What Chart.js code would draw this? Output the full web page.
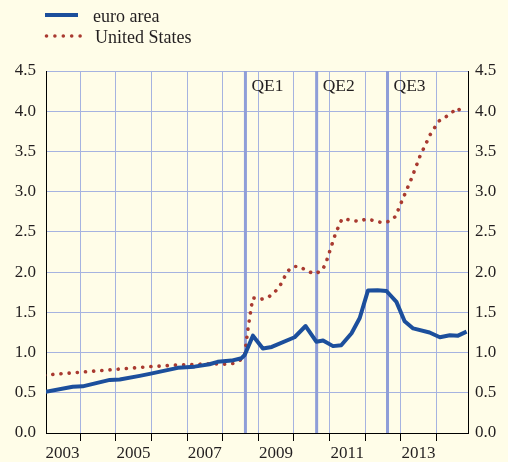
<!DOCTYPE html>
<html><head><meta charset="utf-8">
<script src="https://cdn.jsdelivr.net/npm/chart.js@4.4.1/dist/chart.umd.min.js"></script>
<style>html,body{margin:0;padding:0;background:#FFFDE8;overflow:hidden}</style>
</head><body>
<canvas id="c" width="508" height="462"></canvas>
<script>
// ---- data (decimal years, values in %) ----
const euroDates  = [2003.00,2003.79,2004.07,2004.83,2005.11,2005.67,2005.95,2006.74,2007.21,2007.63,2007.86,2008.25,2008.53,2008.62,2008.85,2009.13,2009.38,2010.02,2010.33,2010.63,2010.82,2011.10,2011.33,2011.62,2011.85,2012.08,2012.35,2012.60,2012.88,2013.11,2013.35,2013.81,2014.10,2014.38,2014.61,2014.85];
const euroValues = [0.51,0.575,0.58,0.66,0.665,0.71,0.735,0.81,0.825,0.855,0.885,0.90,0.93,0.97,1.21,1.05,1.07,1.19,1.33,1.135,1.15,1.08,1.09,1.24,1.43,1.77,1.775,1.765,1.63,1.39,1.30,1.25,1.19,1.215,1.21,1.26];
const usDates  = [2003.00,2004.83,2005.95,2006.74,2007.63,2008.06,2008.31,2008.51,2008.62,2008.71,2008.81,2008.85,2009.07,2009.29,2009.46,2009.61,2009.82,2009.99,2010.17,2010.36,2010.58,2010.78,2010.89,2011.03,2011.17,2011.35,2011.59,2011.81,2012.04,2012.25,2012.47,2012.67,2012.85,2013.03,2013.30,2013.54,2013.83,2013.96,2014.08,2014.27,2014.45,2014.61,2014.73];
const usValues = [0.72,0.785,0.825,0.845,0.86,0.855,0.865,0.91,0.98,1.29,1.58,1.68,1.66,1.69,1.75,1.83,2.01,2.07,2.07,2.015,1.98,2.015,2.10,2.29,2.48,2.66,2.65,2.63,2.66,2.64,2.615,2.63,2.69,2.88,3.16,3.44,3.71,3.80,3.88,3.93,3.99,4.04,3.96];
const qeDates  = [2008.64, 2010.64, 2012.63];
const qeLabels = ['QE1', 'QE2', 'QE3'];
const gridYears  = [2004,2005,2006,2007,2008,2009,2010,2011,2012,2013,2014];
const labelYears = [2003,2005,2007,2009,2011,2013];
const yTicks = [0,0.5,1,1.5,2,2.5,3,3.5,4,4.5];
const seriesNames = ['euro area', 'United States'];

const BG = '#FFFDE8', GRID = '#A6B3E0', QE = '#8F9ED8', TXT = '#231F20';
const BLUE = '#1C4F9C', RED = '#A93A30';
const FONT = 'Liberation Serif';

const pts = (xs, ys) => xs.map((x, i) => ({x, y: ys[i]}));
const isGrid = v => gridYears.includes(v);

const deco = {
  id: 'deco',
  beforeDraw(chart) {
    const ctx = chart.ctx;
    ctx.save(); ctx.fillStyle = BG; ctx.fillRect(0, 0, chart.width, chart.height); ctx.restore();
  },
  beforeDatasetsDraw(chart) {
    const {ctx, chartArea: a, scales: {x}} = chart;
    ctx.save();
    ctx.strokeStyle = QE; ctx.lineWidth = 3;
    qeDates.forEach(d => {
      const px = x.getPixelForValue(d);
      ctx.beginPath(); ctx.moveTo(px, a.top); ctx.lineTo(px, a.bottom); ctx.stroke();
    });
    ctx.fillStyle = TXT; ctx.font = '17.5px "' + FONT + '"'; ctx.textBaseline = 'alphabetic';
    qeDates.forEach((d, i) => {
      ctx.fillText(qeLabels[i], x.getPixelForValue(d) + 6, a.top + 20);
    });
    ctx.restore();
  },
  afterDraw(chart) {
    const ctx = chart.ctx;
    ctx.save();
    ctx.strokeStyle = BLUE; ctx.lineWidth = 4;
    ctx.beginPath(); ctx.moveTo(45, 15); ctx.lineTo(78, 15); ctx.stroke();
    ctx.fillStyle = RED;
    for (let i = 0; i < 5; i++) { ctx.beginPath(); ctx.arc(46.5 + i * 8.4, 36, 1.8, 0, Math.PI * 2); ctx.fill(); }
    ctx.fillStyle = TXT; ctx.font = '18px "' + FONT + '"'; ctx.textBaseline = 'alphabetic';
    ctx.fillText(seriesNames[0], 93, 21.5);
    ctx.fillText(seriesNames[1], 95, 43);
    ctx.restore();
  }
};

new Chart(document.getElementById('c'), {
  type: 'line',
  data: { datasets: [
    { label: seriesNames[0], data: pts(euroDates, euroValues), borderColor: BLUE, borderWidth: 4, pointRadius: 0, tension: 0, borderJoinStyle: 'round' },
    { label: seriesNames[1], data: pts(usDates, usValues), borderColor: RED, borderWidth: 3.6, borderDash: [0.1, 8.1], borderCapStyle: 'round', pointRadius: 0, tension: 0 }
  ]},
  options: {
    responsive: false, animation: false, devicePixelRatio: 1,
    layout: { padding: { top: 71, left: 0, right: 0, bottom: 0 } },
    plugins: { legend: { display: false }, tooltip: { enabled: false } },
    scales: {
      x: {
        type: 'linear', min: 2003.04, max: 2014.89,
        afterBuildTicks: s => { s.ticks = gridYears.concat(labelYears.map(y => y + 0.5)).sort((a, b) => a - b).map(v => ({value: v})); },
        afterFit: s => { s.height = 29; },
        grid: { color: c => isGrid(c.tick.value) ? GRID : 'rgba(0,0,0,0)', tickColor: c => isGrid(c.tick.value) ? '#000' : 'rgba(0,0,0,0)', tickLength: 8, lineWidth: 1 },
        border: { color: '#000', width: 1 },
        ticks: { autoSkip: false, maxRotation: 0, padding: 2, color: TXT, font: { family: FONT, size: 17 },
          callback: v => isGrid(v) ? '' : String(Math.floor(v)) }
      },
      y: {
        position: 'left', min: 0, max: 4.5,
        afterBuildTicks: s => { s.ticks = yTicks.map(v => ({value: v})); },
        afterFit: s => { s.width = 46; },
        grid: { color: GRID, drawTicks: false, lineWidth: 1 },
        border: { color: '#000', width: 1 },
        ticks: { padding: 10, color: TXT, font: { family: FONT, size: 17 }, callback: v => v.toFixed(1) }
      },
      y1: {
        position: 'right', min: 0, max: 4.5,
        afterBuildTicks: s => { s.ticks = yTicks.map(v => ({value: v})); },
        afterFit: s => { s.width = 40; },
        grid: { display: true, drawOnChartArea: false, drawTicks: false },
        border: { color: '#000', width: 1 },
        ticks: { padding: 7, color: TXT, font: { family: FONT, size: 17 }, callback: v => v.toFixed(1) }
      }
    }
  },
  plugins: [deco]
});
</script>
</body></html>
